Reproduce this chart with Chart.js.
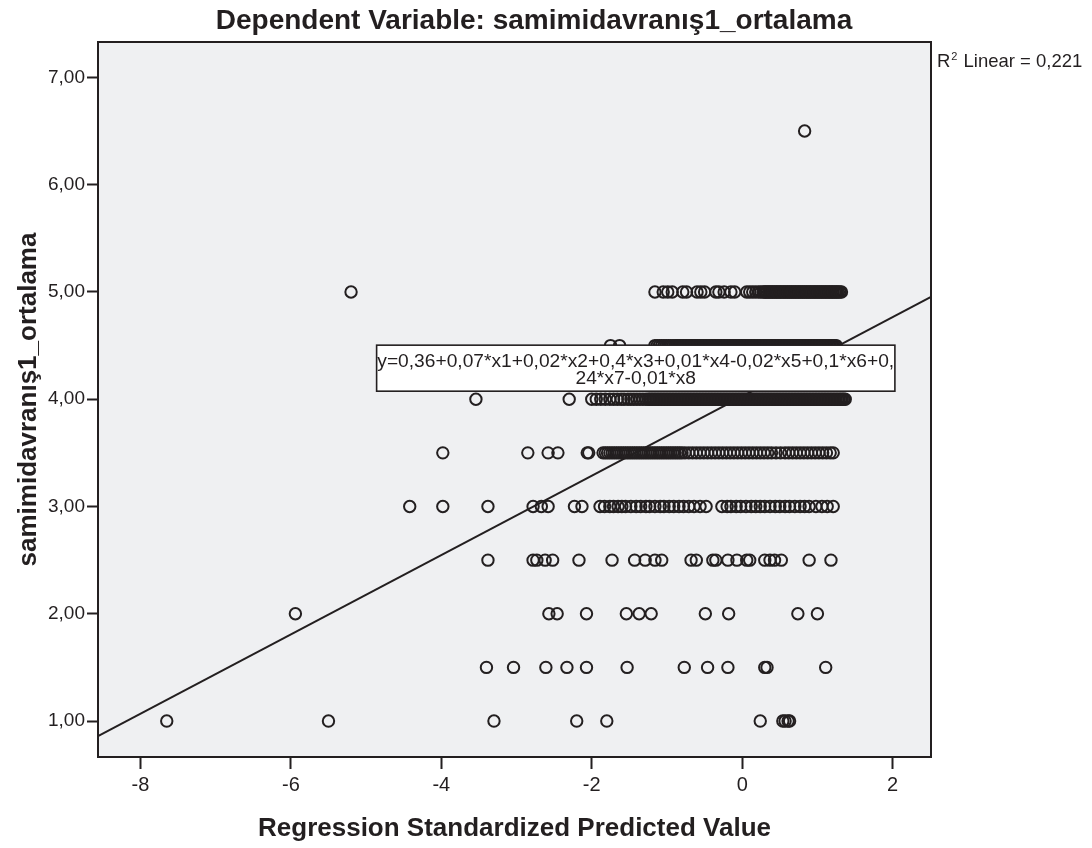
<!DOCTYPE html>
<html>
<head>
<meta charset="utf-8">
<script src="https://cdn.jsdelivr.net/npm/chart.js@4.4.1/dist/chart.umd.min.js"></script>
<style>
  html, body { margin: 0; padding: 0; background: #ffffff; }
  #wrap { width: 1092px; height: 848px; }
</style>
</head>
<body>
<div id="wrap"><canvas id="chart" width="1092" height="848"></canvas></div>
<script>
// Regression Standardized Predicted Value for each observed level of samimidavranış1_ortalama
const xAt100 = [-7.65, -5.50, -3.30, -2.20, -1.80, 0.24, 0.54, 0.57, 0.61, 0.63];
const xAt150 = [-3.40, -3.04, -2.61, -2.33, -2.07, -1.53, -0.77, -0.46, -0.19, 0.30, 0.33, 1.11];
const xAt200 = [-5.94, -2.57, -2.46, -2.07, -1.54, -1.37, -1.21, -0.49, -0.18, 0.74, 1.00];
const xAt250 = [-3.38, -2.78, -2.73, -2.62, -2.52, -2.17, -1.73, -1.43, -1.29, -1.16, -1.07, -0.68, -0.61,
  -0.39, -0.35, -0.19, -0.07, 0.06, 0.10, 0.30, 0.37, 0.43, 0.52, 0.89, 1.18];
const xAt300 = [-4.42, -3.98, -3.38, -2.78, -2.67, -2.58, -2.23, -2.13, -1.89, -1.83, -1.76, -1.71, -1.65,
  -1.60, -1.55, -1.48, -1.41, -1.35, -1.28, -1.23, -1.16, -1.09, -1.04, -0.97, -0.91, -0.84, -0.78, -0.71,
  -0.64, -0.56, -0.48, -0.27, -0.20, -0.15, -0.08, -0.02, 0.05, 0.12, 0.18, 0.24, 0.30, 0.37, 0.44, 0.50,
  0.57, 0.63, 0.70, 0.77, 0.83, 0.89, 0.98, 1.06, 1.13, 1.21];
const xAt350 = [-3.98, -2.85, -2.58, -2.45, -2.06, -2.04, -1.85, -1.82, -1.79, -1.76, -1.73, -1.70, -1.67,
  -1.64, -1.61, -1.58, -1.55, -1.52, -1.49, -1.46, -1.43, -1.40, -1.37, -1.34, -1.31, -1.28, -1.25, -1.22,
  -1.19, -1.16, -1.13, -1.10, -1.07, -1.04, -1.01, -0.98, -0.95, -0.92, -0.89, -0.86, -0.83, -0.80, -0.76,
  -0.71, -0.66, -0.61, -0.56, -0.51, -0.46, -0.41, -0.36, -0.31, -0.26, -0.21, -0.16, -0.11, -0.06, -0.01,
  0.04, 0.09, 0.14, 0.19, 0.24, 0.29, 0.34, 0.39, 0.45, 0.51, 0.57, 0.62, 0.67, 0.72, 0.77, 0.82, 0.87,
  0.92, 0.97, 1.02, 1.07, 1.12, 1.17, 1.21];
const xAt400 = [-3.54, -2.30, -2.00, -1.94, -1.88, -1.82, -1.76, -1.71, -1.66, -1.61, -1.57, -1.52, -1.48,
  -1.44, -1.40, -1.36, -1.32, -1.28, -1.25, -1.23, -1.21, -1.19, -1.17, -1.15, -1.13, -1.11, -1.09, -1.07,
  -1.05, -1.03, -1.01, -0.99, -0.97, -0.95, -0.93, -0.91, -0.89, -0.87, -0.85, -0.83, -0.81, -0.79, -0.77,
  -0.75, -0.73, -0.71, -0.69, -0.67, -0.65, -0.63, -0.61, -0.59, -0.57, -0.55, -0.53, -0.51, -0.49, -0.47,
  -0.45, -0.43, -0.41, -0.39, -0.37, -0.35, -0.33, -0.31, -0.29, -0.27, -0.25, -0.23, -0.21, -0.19, -0.17,
  -0.15, -0.13, -0.11, -0.09, -0.07, -0.05, -0.03, -0.01, 0.01, 0.03, 0.05, 0.07, 0.09, 0.11, 0.13, 0.15,
  0.17, 0.19, 0.21, 0.23, 0.25, 0.27, 0.29, 0.31, 0.33, 0.35, 0.37, 0.39, 0.41, 0.43, 0.45, 0.47, 0.49,
  0.51, 0.53, 0.55, 0.57, 0.59, 0.61, 0.63, 0.65, 0.67, 0.69, 0.71, 0.73, 0.75, 0.77, 0.79, 0.81, 0.83,
  0.85, 0.87, 0.89, 0.91, 0.93, 0.95, 0.97, 0.99, 1.01, 1.03, 1.05, 1.07, 1.09, 1.11, 1.13, 1.15, 1.17,
  1.19, 1.21, 1.23, 1.25, 1.27, 1.29, 1.31, 1.33, 1.35, 1.37];
const xAt450 = [-1.75, -1.63, -1.16, -1.13, -1.10, -1.07, -1.04, -1.01, -0.98, -0.95, -0.92, -0.89, -0.87,
  -0.85, -0.83, -0.81, -0.79, -0.77, -0.75, -0.73, -0.71, -0.69, -0.67, -0.65, -0.63, -0.61, -0.59, -0.57,
  -0.55, -0.53, -0.51, -0.49, -0.47, -0.45, -0.43, -0.41, -0.39, -0.37, -0.35, -0.33, -0.31, -0.29, -0.27,
  -0.25, -0.23, -0.21, -0.19, -0.17, -0.15, -0.13, -0.11, -0.09, -0.07, -0.05, -0.03, -0.01, 0.01, 0.03,
  0.05, 0.07, 0.09, 0.11, 0.13, 0.15, 0.17, 0.19, 0.21, 0.23, 0.25, 0.27, 0.29, 0.31, 0.33, 0.35, 0.37,
  0.39, 0.41, 0.43, 0.45, 0.47, 0.49, 0.51, 0.53, 0.55, 0.57, 0.59, 0.61, 0.63, 0.65, 0.67, 0.69, 0.71,
  0.73, 0.75, 0.77, 0.79, 0.81, 0.83, 0.85, 0.87, 0.89, 0.91, 0.93, 0.95, 0.97, 0.99, 1.01, 1.03, 1.05,
  1.07, 1.09, 1.11, 1.13, 1.15, 1.17, 1.19, 1.21, 1.23, 1.25];
const xAt500 = [-5.20, -1.16, -1.05, -0.99, -0.93, -0.79, -0.74, -0.60, -0.55, -0.50, -0.35, -0.31, -0.24,
  -0.15, -0.10, 0.06, 0.10, 0.14, 0.18, 0.22, 0.25, 0.28, 0.30, 0.31, 0.33, 0.35, 0.36, 0.38, 0.40, 0.41,
  0.43, 0.45, 0.46, 0.48, 0.50, 0.51, 0.53, 0.55, 0.56, 0.58, 0.60, 0.61, 0.63, 0.65, 0.66, 0.68, 0.70,
  0.71, 0.73, 0.75, 0.76, 0.78, 0.80, 0.81, 0.83, 0.85, 0.86, 0.88, 0.90, 0.91, 0.93, 0.95, 0.96, 0.98,
  1.00, 1.01, 1.03, 1.05, 1.06, 1.08, 1.10, 1.11, 1.13, 1.15, 1.16, 1.18, 1.20, 1.21, 1.23, 1.25, 1.26,
  1.28, 1.30, 1.32];
const xAt650 = [0.83];

const yLevels = [1.00, 1.50, 2.00, 2.50, 3.00, 3.50, 4.00, 4.50, 5.00, 6.50];
const xByLevel = [xAt100, xAt150, xAt200, xAt250, xAt300, xAt350, xAt400, xAt450, xAt500, xAt650];

// fit line ends (read at the plot frame)
const fitX = [-8.564, 2.51];
const fitY = [0.86, 4.955];

const xTicks = [-8, -6, -4, -2, 0, 2];
const yTicks = [1, 2, 3, 4, 5, 6, 7];
const yTickLabels = ['1,00', '2,00', '3,00', '4,00', '5,00', '6,00', '7,00'];

const titleText = 'Dependent Variable: samimidavranış1_ortalama';
const xTitle = 'Regression Standardized Predicted Value';
const yTitle = 'samimidavranış1_ortalama';
const equationLines = ['y=0,36+0,07*x1+0,02*x2+0,4*x3+0,01*x4-0,02*x5+0,1*x6+0,', '24*x7-0,01*x8'];
const r2Text = 'Linear = 0,221';

const INK = '#231f20';
const FONT = "'Liberation Sans', Arial, sans-serif";

const points = [];
yLevels.forEach((y, i) => {
    xByLevel[i].forEach(x => points.push({ x: x, y: y }));
});

const spssDecor = {
    id: 'spssDecor',
    beforeDatasetsDraw(chart) {
        const { ctx, chartArea: a } = chart;
        ctx.save();
        ctx.fillStyle = '#eff0f2';
        ctx.fillRect(a.left, a.top, a.right - a.left, a.bottom - a.top);
        ctx.restore();
    },
    afterDatasetsDraw(chart) {
        const { ctx, chartArea: a, scales } = chart;
        const xs = scales.x, ys = scales.y;
        ctx.save();

        // equation box
        const bx0 = xs.getPixelForValue(-4.86), bx1 = xs.getPixelForValue(2.03);
        const by0 = ys.getPixelForValue(4.504), by1 = ys.getPixelForValue(4.075);
        ctx.fillStyle = '#ffffff';
        ctx.fillRect(bx0, by0, bx1 - bx0, by1 - by0);
        ctx.strokeStyle = INK;
        ctx.lineWidth = 1.6;
        ctx.strokeRect(bx0, by0, bx1 - bx0, by1 - by0);
        ctx.fillStyle = INK;
        ctx.font = '19.2px ' + FONT;
        ctx.textAlign = 'center';
        ctx.textBaseline = 'alphabetic';
        const cx = (bx0 + bx1) / 2;
        ctx.fillText(equationLines[0], cx, by0 + 22);
        ctx.fillText(equationLines[1], cx, by0 + 39);

        // frame
        ctx.strokeStyle = INK;
        ctx.lineWidth = 2;
        ctx.strokeRect(a.left, a.top, a.right - a.left, a.bottom - a.top);

        // main title
        ctx.font = 'bold 28px ' + FONT;
        ctx.textAlign = 'center';
        ctx.fillText(titleText, 534, 29);

        // R² label
        ctx.textAlign = 'left';
        ctx.font = '18.5px ' + FONT;
        let x = a.right + 6;
        ctx.fillText('R', x, 67);
        x += ctx.measureText('R').width + 1;
        ctx.font = '11px ' + FONT;
        ctx.fillText('2', x, 60);
        x += ctx.measureText('2').width + 6;
        ctx.font = '18.5px ' + FONT;
        ctx.fillText(r2Text, x, 67);
        ctx.restore();
    }
};

new Chart(document.getElementById('chart'), {
    type: 'scatter',
    data: {
        datasets: [
            {
                label: 'points',
                data: points,
                pointStyle: 'circle',
                pointRadius: 5.7,
                pointBorderWidth: 2,
                pointBorderColor: INK,
                pointBackgroundColor: 'rgba(0,0,0,0)'
            },
            {
                label: 'fit',
                data: fitX.map((x, i) => ({ x: x, y: fitY[i] })),
                showLine: true,
                borderColor: INK,
                borderWidth: 2,
                pointRadius: 0
            }
        ]
    },
    options: {
        responsive: false,
        animation: false,
        layout: { padding: { top: 42, right: 161, bottom: 0, left: 0 } },
        plugins: { legend: { display: false }, tooltip: { enabled: false }, title: { display: false } },
        scales: {
            x: {
                type: 'linear',
                min: -8.564,
                max: 2.51,
                afterBuildTicks: axis => { axis.ticks = xTicks.map(v => ({ value: v })); },
                afterFit: axis => { axis.height = 91; },
                grid: { drawOnChartArea: false, drawTicks: true, tickLength: 12, tickColor: INK, tickWidth: 2 },
                border: { display: true, color: INK, width: 2 },
                ticks: { color: INK, padding: 4, font: { family: FONT, size: 20 } },
                title: {
                    display: true, text: xTitle, color: INK,
                    font: { family: FONT, size: 26, weight: 'bold' },
                    padding: { top: 0, bottom: 3.4 }
                }
            },
            y: {
                type: 'linear',
                min: 0.665,
                max: 7.33,
                afterBuildTicks: axis => { axis.ticks = yTicks.map(v => ({ value: v })); },
                afterFit: axis => { axis.width = 98; },
                grid: { drawOnChartArea: false, drawTicks: true, tickLength: 11, tickColor: INK, tickWidth: 2 },
                border: { display: true, color: INK, width: 2 },
                ticks: {
                    color: INK, padding: 2, font: { family: FONT, size: 19 },
                    callback: v => yTickLabels[yTicks.indexOf(v)]
                },
                title: {
                    display: true, text: yTitle, color: INK,
                    font: { family: FONT, size: 26, weight: 'bold' },
                    padding: { top: 13, bottom: 0 }
                }
            }
        }
    },
    plugins: [spssDecor]
});
</script>
</body>
</html>
